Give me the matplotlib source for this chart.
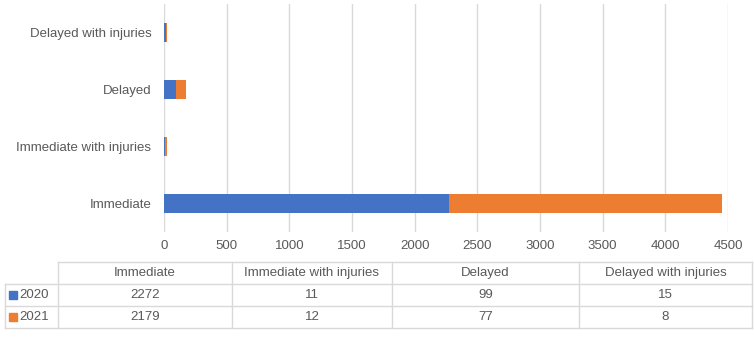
import matplotlib.pyplot as plt
import numpy as np

categories = ['Immediate', 'Immediate with injuries', 'Delayed', 'Delayed with injuries']
years = ['2020', '2021']
values_2020 = [2272, 11, 99, 15]
values_2021 = [2179, 12, 77, 8]
x_ticks = [0, 500, 1000, 1500, 2000, 2500, 3000, 3500, 4000, 4500]

blue = '#4472C4'
orange = '#ED7D31'
text_col = '#595959'
grid_col = '#D9D9D9'

plt.rcParams['font.family'] = ['Liberation Sans', 'DejaVu Sans']

W, H = 754, 343
fig = plt.figure(figsize=(W / 100, H / 100), dpi=100)

# chart area, in pixel terms of the reference
ax = fig.add_axes([164 / W, (H - 232) / H, (728 - 164) / W, (232 - 4) / H])
y = np.arange(len(categories))
ax.barh(y, values_2020, height=0.35, color=blue, zorder=3)
ax.barh(y, values_2021, left=values_2020, height=0.35, color=orange, zorder=3)
ax.set_xlim(0, 4500)
ax.set_ylim(-0.5, len(categories) - 0.5)
ax.set_xticks(x_ticks)
ax.set_xticklabels([str(t) for t in x_ticks])
ax.set_yticks(y)
ax.set_yticklabels(categories)
ax.grid(axis='x', color=grid_col, linewidth=1, zorder=0)
ax.tick_params(axis='x', length=0, pad=6, labelsize=9.5, labelcolor=text_col)
ax.tick_params(axis='y', length=0, pad=9, labelsize=9.5, labelcolor=text_col)
for s in ax.spines.values():
    s.set_visible(False)

# data table under the chart
tx0, tx1, ty0, ty1 = 5, 752, 262, 328
tab = fig.add_axes([tx0 / W, (H - ty1) / H, (tx1 - tx0) / W, (ty1 - ty0) / H])
tab.set_xlim(0, tx1 - tx0)
tab.set_ylim(ty1 - ty0, 0)
tab.axis('off')

col_w = [53, 174, 160, 187, 173]
edges = np.concatenate([[0], np.cumsum(col_w)])
row_h = (ty1 - ty0) / 3
lw = 1.0

# header row (no box on top-left cell)
tab.plot([edges[1], edges[-1]], [0, 0], color=grid_col, lw=lw, clip_on=False)
for r in range(1, 4):
    tab.plot([edges[0], edges[-1]], [r * row_h, r * row_h], color=grid_col, lw=lw, clip_on=False)
tab.plot([edges[0], edges[0]], [row_h, 3 * row_h], color=grid_col, lw=lw, clip_on=False)
for e in edges[1:]:
    tab.plot([e, e], [0, 3 * row_h], color=grid_col, lw=lw, clip_on=False)

for i, c in enumerate(categories):
    tab.text((edges[i + 1] + edges[i + 2]) / 2, 0.5 * row_h, c, ha='center', va='center',
             fontsize=9.5, color=text_col)

rows = [values_2020, values_2021]
colors = [blue, orange]
for r, (yr, vals, col) in enumerate(zip(years, rows, colors)):
    yc = (r + 1.5) * row_h
    tab.plot([8], [yc], marker='s', markersize=6, color=col, linestyle='none', clip_on=False)
    tab.text(14, yc, yr, ha='left', va='center', fontsize=9.5, color=text_col)
    for i, v in enumerate(vals):
        tab.text((edges[i + 1] + edges[i + 2]) / 2, yc, str(v), ha='center', va='center',
                 fontsize=9.5, color=text_col)

fig.savefig('out.png', dpi=100)
